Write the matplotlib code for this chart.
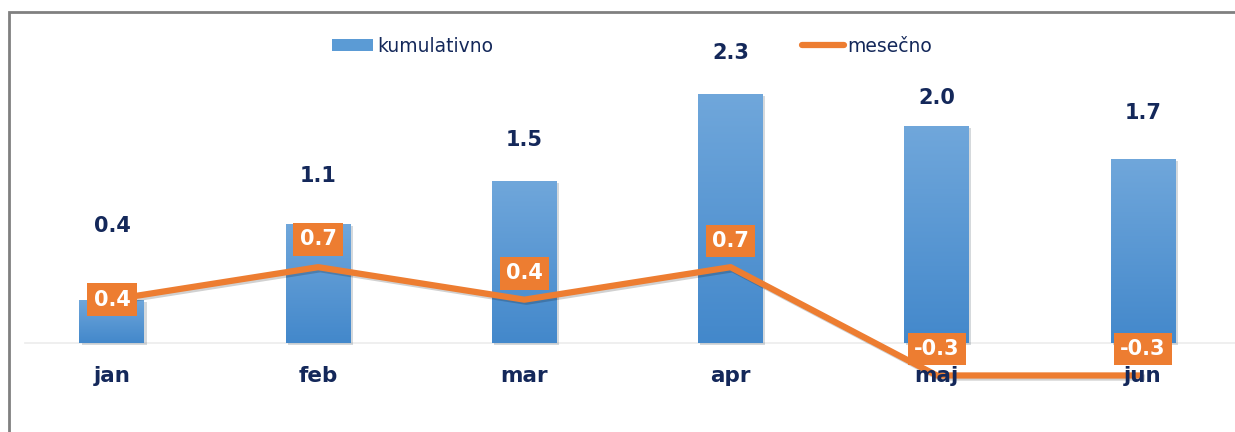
import numpy as np
import matplotlib
matplotlib.use("Agg")
import matplotlib.pyplot as plt
import matplotlib.patheffects as pe
from matplotlib.patches import Rectangle
from matplotlib.lines import Line2D

months = ["jan", "feb", "mar", "apr", "maj", "jun"]
kumulativno = [0.4, 1.1, 1.5, 2.3, 2.0, 1.7]
mesecno = [0.4, 0.7, 0.4, 0.7, -0.3, -0.3]

# label offsets (points) as placed in the original
bar_lab_off = [46, 27, 22, 22, 13, 26]
line_lab_off = [0, 20, 19, 19, 19, 19]

navy = "#14285a"
orange = "#ed7d31"
blue = "#5b9bd5"

fig = plt.figure(figsize=(12.35, 4.32), dpi=100)
ax = fig.add_axes([0, 0, 1, 1])
ax.axis("off")

x = np.arange(len(months))

# baseline
ax.axhline(0, xmin=0.02, color="#ececec", lw=1.2, zorder=1)

bars = ax.bar(x, kumulativno, width=0.315, color=blue, zorder=2,
              path_effects=[pe.SimplePatchShadow(offset=(1.5, -1.5), alpha=0.18), pe.Normal()])

# vertical gradient in each bar
grad = np.linspace(0, 1, 256).reshape(-1, 1)
cmap = matplotlib.colors.LinearSegmentedColormap.from_list("b", ["#4388cb", "#70a7db"])
for b in bars:
    x0, y0 = b.get_x(), b.get_y()
    im = ax.imshow(grad, extent=[x0, x0 + b.get_width(), y0, y0 + b.get_height()],
                   origin="lower", cmap=cmap, aspect="auto", zorder=2.5)
    im.set_clip_path(b)
ax.set_xlim(-0.543, 5.446)
ax.set_ylim(-0.822, 3.167)

ax.plot(x, mesecno, color=orange, lw=4.5, zorder=3,
        solid_capstyle="butt",
        path_effects=[pe.SimpleLineShadow(offset=(1.5, -1.5), alpha=0.18), pe.Normal()])

for i, v in enumerate(kumulativno):
    ax.annotate(f"{v:.1f}", (x[i], v), xytext=(0, bar_lab_off[i]), textcoords="offset points",
                ha="center", va="bottom", fontsize=15, fontweight="bold", color=navy, zorder=5)

for i, v in enumerate(mesecno):
    ax.annotate(f"{v:.1f}", (x[i], v), xytext=(0, line_lab_off[i]), textcoords="offset points",
                ha="center", va="center", fontsize=15, fontweight="bold", color="white", zorder=6,
                bbox=dict(boxstyle="square,pad=0.3", fc=orange, ec="none"))

for i, m in enumerate(months):
    ax.annotate(m, (x[i], 0), xytext=(0, -24), textcoords="offset points",
                ha="center", va="center", fontsize=15.5, fontweight="bold", color=navy, zorder=4)

handles = [Rectangle((0, 0), 1, 1, fc=blue, ec="none"),
           Line2D([], [], color=orange, lw=4.5, solid_capstyle="round")]
ax.legend(handles, ["kumulativno", "mesečno"], loc="center",
          bbox_to_anchor=(632 / 1235, 1 - 46 / 432), ncol=2,
          frameon=False, fontsize=13.5, handlelength=2.2, handleheight=0.6,
          handletextpad=0.2, columnspacing=16.5, labelcolor=navy)

# outer border
fig.patches.append(Rectangle((9 / 1235, -0.1), 1.2, 1.1 - 12 / 432, transform=fig.transFigure,
                             fill=False, ec="#808080", lw=2, zorder=10))

fig.savefig("out.png", dpi=100)
